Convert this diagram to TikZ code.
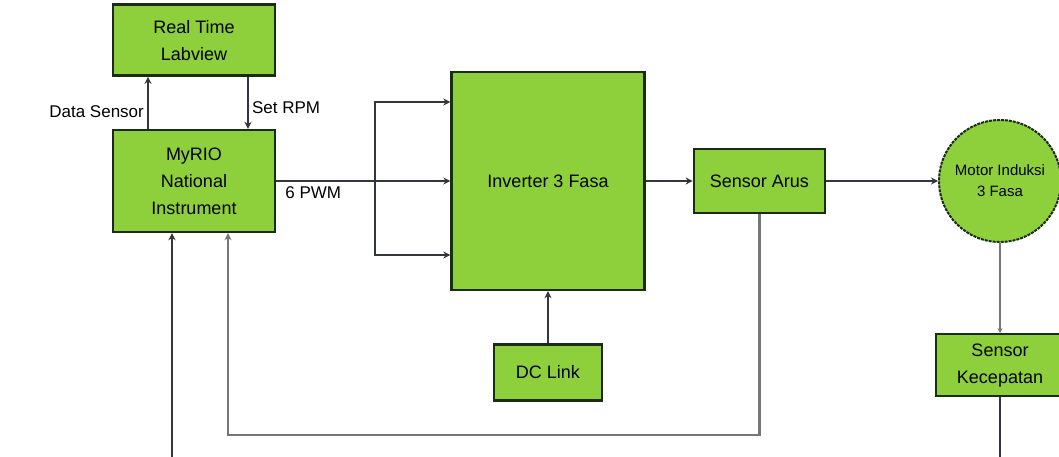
\documentclass[tikz,border=0pt]{standalone}
\usepackage{fontspec}
\setmainfont{Liberation Sans}
\usetikzlibrary{positioning, arrows.meta}
\definecolor{leafGreen}{RGB}{141,208,60}
\definecolor{edgeDark}{RGB}{28,44,20}
\definecolor{wireDark}{RGB}{52,54,62}
\definecolor{wireGray}{RGB}{118,118,122}

\begin{document}
\begin{tikzpicture}[
      x=1pt, y=-1pt,
      block/.style={rectangle, draw=edgeDark, fill=leafGreen, line width=2.4pt,
        align=center, inner sep=2pt, font=\fontsize{18}{27}\selectfont},
      motorball/.style={circle, draw=edgeDark, fill=leafGreen, line width=2pt,
        dash pattern=on 3pt off 1pt, minimum size=122pt, inner sep=0pt, align=center,
        font=\fontsize{15}{21}\selectfont},
      arr/.style={-{Stealth[length=7pt, width=7pt]}, line width=2.3pt, wireDark},
      fbarr/.style={-{Stealth[length=7pt, width=7pt]}, line width=2.3pt, wireGray},
      thinarr/.style={-{Stealth[length=5pt, width=5pt]}, line width=1.3pt, wireGray},
      lbl/.style={font=\fontsize{17}{20}\selectfont, text=black, inner sep=3pt}
    ]
    \useasboundingbox (0,0) rectangle (1059,457);
    \clip (0,0) rectangle (1059,457);
    \fill[white] (0,0) rectangle (1059,457);

    \node[block, minimum width=162pt, minimum height=102pt] (rio) at (194,181)
      {MyRIO\\National\\Instrument};
    \node[block, minimum width=162pt, minimum height=71pt, above=52pt of rio] (rt)
      {Real Time\\Labview};
    \node[block, minimum width=193pt, minimum height=218pt] (inv) at (548,181)
      {Inverter 3 Fasa};
    \node[block, minimum width=131pt, minimum height=64pt, right=47pt of inv] (arus)
      {Sensor Arus};
    \node[block, minimum width=108pt, minimum height=56pt, below=52pt of inv] (dc)
      {DC Link};
    \node[motorball] (motor) at (1000,181) {Motor Induksi\\3 Fasa};
    \node[block, minimum width=128pt, minimum height=62pt, below=90pt of motor] (kec)
      {Sensor\\Kecepatan};

    \coordinate (split) at (375,181);
    \coordinate (fbcorner) at (228,435);
    \coordinate (loopright) at (1000,475);
    \coordinate (loopleft) at (172,475);

    % link to the real time pc
    \draw[arr] ([xshift=-46pt]rio.north) -- ([xshift=-46pt]rt.south)
      node[lbl, left, pos=0.33] {Data Sensor};
    \draw[arr] ([xshift=54pt]rt.south) -- ([xshift=54pt]rio.north)
      node[lbl, right, pos=0.6] {Set RPM};

    % pwm bus
    \draw[arr] (rio.east) -- (split) -- (inv.west);
    \draw[arr] (split) |- ([yshift=79pt]inv.west);
    \draw[arr] (split) |- ([yshift=-74pt]inv.west);
    \node[lbl, below right=2pt and 6pt of rio.east] (pwm) {6 PWM};

    \draw[arr] (inv.east) -- (arus.west);
    \draw[arr] (arus.east) -- (motor.west);
    \draw[arr] (dc.north) -- (inv.south);
    \draw[thinarr] (motor.south) -- (kec.north);

    % feedback lines
    \draw[fbarr] (arus.south) |- (fbcorner) -- ([xshift=34pt]rio.south);
    \draw[arr] (kec.south) -- (loopright) -- (loopleft) -- ([xshift=-22pt]rio.south);
  \end{tikzpicture}
\end{document}
